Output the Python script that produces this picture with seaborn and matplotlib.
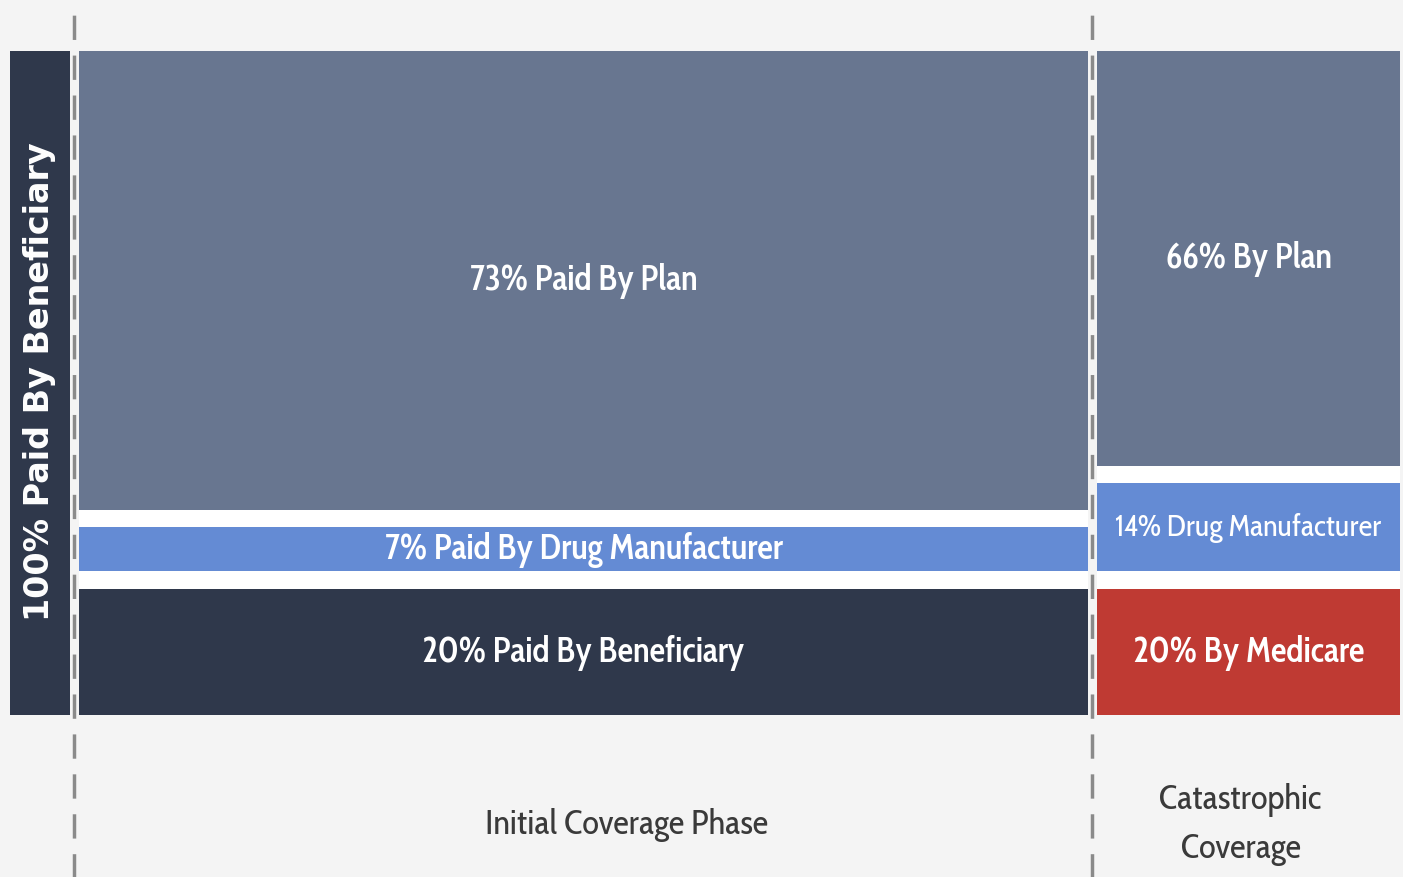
import matplotlib.pyplot as plt
import seaborn as sns

# === data ===
phases = ["Initial Coverage Phase", "Catastrophic\nCoverage"]
initial_payers = ["Paid By Beneficiary", "Paid By Drug Manufacturer", "Paid By Plan"]
initial_shares = [20, 7, 73]
cat_payers = ["By Medicare", "Drug Manufacturer", "By Plan"]
cat_shares = [20, 14, 66]
side_label = "100% Paid By Beneficiary"

# === style ===
sns.set_theme(style="white")
plt.rcParams["font.family"] = ["Cabin Condensed", "DejaVu Sans"]

BG = "#f4f4f4"
PLAN = "#687690"
MFR = "#648bd4"
DARK = "#2f384b"
RED = "#bf3a33"
GAP = 2.8  # white strip between stacked pieces (in % units)

fig = plt.figure(figsize=(14.03, 8.78), dpi=100, facecolor=BG)
ax = fig.add_axes([0, 0, 1, 1])
ax.set_facecolor(BG)
ax.set_xlim(0, 1403)
ax.set_ylim(-25.8, 113.8)
ax.axis("off")

# column layout: x centre, width, label sizes per piece
cols = [
    (583.5, 1009, initial_payers, initial_shares, [DARK, MFR, PLAN], [25, 25, 25]),
    (1248.5, 303, cat_payers, cat_shares, [RED, MFR, PLAN], [25, 22, 25]),
]
total_h = 100 + 2 * GAP

# left "100% by beneficiary" bar
ax.bar(40, total_h, width=60, bottom=0, color=DARK, linewidth=0)
ax.text(40, total_h / 2 + 0.3, side_label, rotation=90, ha="center", va="center",
        color="white", fontsize=24, fontweight="bold", family="DejaVu Sans")

for (xc, w, payers, shares, colors, sizes), phase in zip(cols, phases):
    # white backing shows through the gaps
    ax.bar(xc, total_h, width=w, bottom=0, color="white", linewidth=0)
    bottom = 0
    for name, share, c, fs in zip(payers, shares, colors, sizes):
        ax.bar(xc, share, width=w, bottom=bottom, color=c, linewidth=0)
        ax.text(xc, bottom + share / 2, f"{share}% {name}", ha="center", va="center",
                color="white", fontsize=fs, fontweight="semibold" if fs == 25 else "normal")
        bottom += share + GAP
    ax.text(xc + (43 if w > 400 else -8), -17.3, phase, ha="center", va="center",
            color="#3a3a3a", fontsize=25, linespacing=1.55)

# dashed separators
for xd in [74, 1092]:
    ax.plot([xd, xd], [-26, 112.3], color="#8a8a8a", lw=2.5,
            linestyle=(0, (7, 4.5)), solid_capstyle="butt")

fig.savefig("out.png", dpi=100, facecolor=BG)
